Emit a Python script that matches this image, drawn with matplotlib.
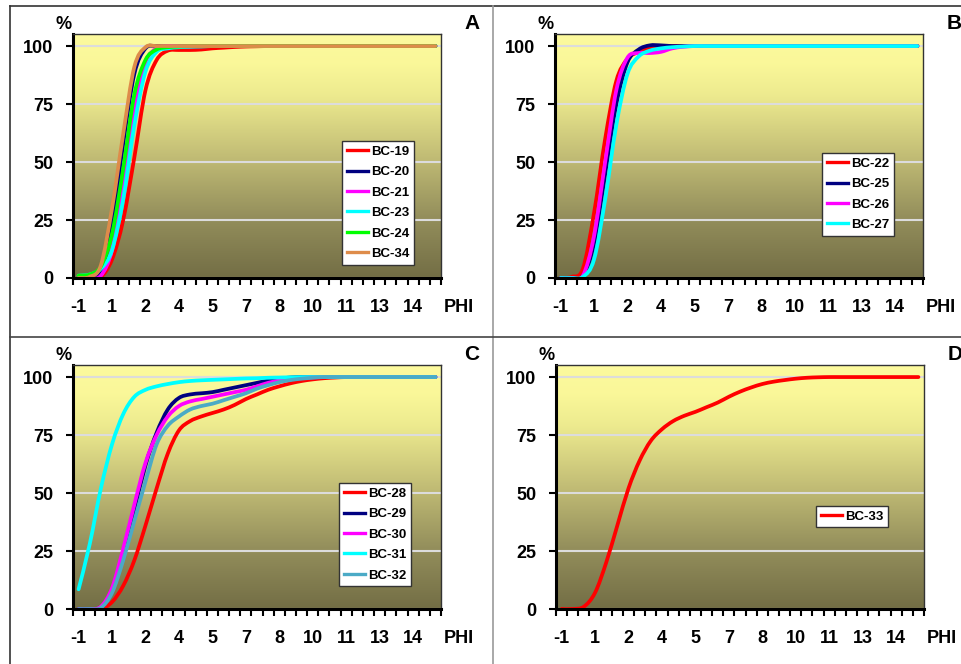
import numpy as np
import matplotlib
matplotlib.use("Agg")
import matplotlib.pyplot as plt
from matplotlib.path import Path
from matplotlib.patches import PathPatch
from matplotlib.lines import Line2D
from matplotlib.colors import LinearSegmentedColormap

plt.rcParams['font.family'] = ['Liberation Sans', 'DejaVu Sans']
plt.rcParams['font.weight'] = 'bold'

# categories (phi, 0.5 steps) and the rounded labels shown on every 3rd one
PHI = [-1, -0.5, 0, 0.5, 1, 1.5, 2, 2.5, 3, 3.5, 4, 4.5, 5, 5.5, 6, 6.5, 7,
       7.5, 8, 8.5, 9, 9.5, 10, 10.5, 11, 11.5, 12, 12.5, 13, 13.5, 14, 14.5, 15]
XLABELS = ['-1', '1', '2', '4', '5', '7', '8', '10', '11', '13', '14']
YTICKS = [0, 25, 50, 75, 100]

# panel A
bc19 = [0, 0, 0.5, 8, 25, 52, 81, 94, 98, 98.3, 98.3, 98.5, 99, 99.3, 99.6, 99.8, 99.9,
        100, 100, 100, 100, 100, 100, 100, 100, 100, 100, 100, 100, 100, 100, 100, 100]
bc20 = [0, 0, 3, 23, 58, 88, 99, 100, 100, 100, 100, 100, 100, 100, 100, 100, 100,
        100, 100, 100, 100, 100, 100, 100, 100, 100, 100, 100, 100, 100, 100, 100, 100]
bc21 = [0, 0, 1, 12, 38, 72, 93, 99, 100, 100, 100, 100, 100, 100, 100, 100, 100,
        100, 100, 100, 100, 100, 100, 100, 100, 100, 100, 100, 100, 100, 100, 100, 100]
bc23 = [1, 1.5, 4, 12, 34, 66, 89, 97.5, 99, 99.5, 99.7, 99.8, 100, 100, 100, 100, 100,
        100, 100, 100, 100, 100, 100, 100, 100, 100, 100, 100, 100, 100, 100, 100, 100]
bc24 = [1, 1.5, 5, 19, 47, 79, 94, 98.5, 99.5, 99.8, 100, 100, 100, 100, 100, 100, 100,
        100, 100, 100, 100, 100, 100, 100, 100, 100, 100, 100, 100, 100, 100, 100, 100]
bc34 = [0, 0.5, 5.5, 30, 62, 91, 99.5, 100, 100, 100, 100, 100, 100, 100, 100, 100, 100,
        100, 100, 100, 100, 100, 100, 100, 100, 100, 100, 100, 100, 100, 100, 100, 100]

# panel B
bc22 = [0, 0.5, 4, 28, 60, 85, 94.5, 97.5, 99.3, 100, 100, 100, 100, 100, 100, 100, 100,
        100, 100, 100, 100, 100, 100, 100, 100, 100, 100, 100, 100, 100, 100, 100, 100]
bc25 = [0, 0, 1, 15, 45, 75, 93, 98.5, 100.3, 100.3, 100, 100, 100, 100, 100, 100, 100,
        100, 100, 100, 100, 100, 100, 100, 100, 100, 100, 100, 100, 100, 100, 100, 100]
bc26 = [0, 0, 1, 18, 50, 81, 95, 97, 97, 97.5, 99, 99.7, 100, 100, 100, 100, 100,
        100, 100, 100, 100, 100, 100, 100, 100, 100, 100, 100, 100, 100, 100, 100, 100]
bc27 = [0, 0, 0.5, 8, 34, 66, 88, 95.5, 98, 99, 99.5, 99.8, 100, 100, 100, 100, 100,
        100, 100, 100, 100, 100, 100, 100, 100, 100, 100, 100, 100, 100, 100, 100, 100]

# panel C
bc28 = [0, 0, 0, 3, 10, 21, 36, 52, 67, 77, 81, 83, 84.5, 86, 88, 90.5, 92.5,
        94.5, 96, 97.3, 98.3, 99, 99.5, 99.8, 100, 100, 100, 100, 100, 100, 100, 100, 100]
bc29 = [0, 0, 0.5, 8, 24, 43, 62, 76, 86, 91, 92.5, 93, 93.5, 94.5, 95.5, 96.5, 97.5,
        98.5, 99.3, 99.8, 100, 100, 100, 100, 100, 100, 100, 100, 100, 100, 100, 100, 100]
bc30 = [0, 0, 1, 9, 26, 45, 63, 75, 83, 87.5, 89.5, 90.5, 91.5, 92.5, 93.5, 94.5, 96,
        97.5, 98.5, 99.3, 99.7, 99.9, 100, 100, 100, 100, 100, 100, 100, 100, 100, 100, 100]
bc31 = [8.5, 28, 52, 71, 84, 91.5, 94.5, 96, 97, 97.8, 98.3, 98.6, 98.8, 99, 99.2, 99.4, 99.5,
        99.7, 99.8, 99.9, 100, 100, 100, 100, 100, 100, 100, 100, 100, 100, 100, 100, 100]
bc32 = [0, 0, 0.5, 7, 21, 38, 55, 71, 79, 83, 86, 87.5, 88.5, 90, 91.5, 93, 95,
        96.5, 97.8, 98.7, 99.3, 99.7, 100, 100, 100, 100, 100, 100, 100, 100, 100, 100, 100]

# panel D
bc33 = [0, 0, 1, 7, 20, 36, 52, 64, 72.5, 77.5, 81, 83.3, 85, 87, 89, 91.5, 93.7,
        95.5, 97, 98, 98.7, 99.3, 99.7, 99.9, 100, 100, 100, 100, 100, 100, 100, 100, 100]

RED, NAVY, MAG, CYAN, GREEN = '#FF0000', '#000080', '#FF00FF', '#00FFFF', '#00FF00'
TAN, STEEL = '#DE8C4A', '#4BAAC6'

W, H = 962, 664


def smooth_path(x, y):
    # Excel style smoothed line: cubic bezier through the points
    p = np.column_stack([x, y]).astype(float)
    pp = np.vstack([p[0], p, p[-1]])
    verts = [p[0]]
    codes = [Path.MOVETO]
    for i in range(len(p) - 1):
        p0, p1, p2, p3 = pp[i], pp[i + 1], pp[i + 2], pp[i + 3]
        verts += [p1 + (p2 - p0) / 6, p2 - (p3 - p1) / 6, p2]
        codes += [Path.CURVE4] * 3
    return Path(verts, codes)


bg = LinearSegmentedColormap.from_list('bg', [
    (0.0, (0.45, 0.43, 0.27)),
    (0.25, (0.58, 0.56, 0.36)),
    (0.5, (0.76, 0.74, 0.46)),
    (0.75, (0.93, 0.92, 0.56)),
    (0.88, (0.98, 0.97, 0.60)),
    (1.0, (0.99, 0.98, 0.62)),
])
grad = np.linspace(0, 1, 256).reshape(-1, 1)

panels = [
    ('A', (73, 34), ['BC-19', 'BC-20', 'BC-21', 'BC-23', 'BC-24', 'BC-34'],
     [bc19, bc20, bc21, bc23, bc24, bc34], [RED, NAVY, MAG, CYAN, GREEN, TAN], (342, 141)),
    ('B', (555, 34), ['BC-22', 'BC-25', 'BC-26', 'BC-27'],
     [bc22, bc25, bc26, bc27], [RED, NAVY, MAG, CYAN], (822, 153)),
    ('C', (73, 365), ['BC-28', 'BC-29', 'BC-30', 'BC-31', 'BC-32'],
     [bc28, bc29, bc30, bc31, bc32], [RED, NAVY, MAG, CYAN, STEEL], (339, 483)),
    ('D', (556, 365), ['BC-33'], [bc33], [RED], (816, 506)),
]

fig = plt.figure(figsize=(W / 100, H / 100), dpi=100)

# frame lines around / between the panels
for xs, ys, c in [((10, W), (6, 6), '#333333'), ((10, 10), (6, H), '#333333'),
                  ((493, 493), (6, H), '#999999'), ((10, W), (337, 337), '#444444')]:
    fig.add_artist(Line2D([x / W for x in xs], [1 - y / H for y in ys],
                          transform=fig.transFigure, color=c, lw=1.2))

for letter, (left, top), names, series, colors, (lx, ly) in panels:
    ax = fig.add_axes([left / W, 1 - (top + 244) / H, 368 / W, 244 / H])
    ax.imshow(grad, extent=[0, 1, 0, 1], transform=ax.transAxes, aspect='auto',
              cmap=bg, origin='lower', zorder=0)
    ax.set_axisbelow(True)
    ax.yaxis.grid(True, color='#DCDCDC', lw=1.5)

    handles = []
    for vals, col in zip(series, colors):
        ax.add_patch(PathPatch(smooth_path(PHI, vals), facecolor='none', edgecolor=col,
                               lw=2.7, capstyle='round', joinstyle='round', zorder=2))
        handles.append(Line2D([], [], color=col, lw=2.4))

    ax.set_xlim(PHI[0] - 0.25, PHI[-1] + 0.25)
    ax.set_ylim(0, 105.2)

    ax.set_yticks(YTICKS)
    ax.set_yticklabels([str(v) for v in YTICKS])
    ax.tick_params(axis='y', direction='out', length=5, width=1.5, pad=9, labelsize=13)
    ax.set_xticks(PHI[::3])
    ax.set_xticklabels(XLABELS)
    ax.set_xticks([v - 0.25 for v in PHI] + [PHI[-1] + 0.25], minor=True)
    ax.tick_params(axis='x', which='major', length=0, pad=15, labelsize=13)
    ax.tick_params(axis='x', which='minor', direction='out', length=5, width=1.5)

    for s in ['left', 'bottom']:
        ax.spines[s].set_linewidth(2.2)
        ax.spines[s].set_color('black')
    for s in ['top', 'right']:
        ax.spines[s].set_linewidth(1)
        ax.spines[s].set_color('#333333')

    ax.text(-0.027, 1.037, '%', transform=ax.transAxes, ha='center', va='center', fontsize=13)
    ax.text(1.049, -0.119, 'PHI', transform=ax.transAxes, ha='center', va='center', fontsize=13)
    ax.text(1.084, 1.041, letter, transform=ax.transAxes, ha='center', va='center', fontsize=15)

    leg = ax.legend(handles, names, loc='upper left', bbox_to_anchor=(lx / W, 1 - ly / H),
                    bbox_transform=fig.transFigure, fancybox=False, framealpha=1,
                    edgecolor='#333333', prop={'size': 9.5, 'weight': 'bold'},
                    handlelength=1.6, handletextpad=0.25, labelspacing=0.62,
                    borderpad=0.35, borderaxespad=0)
    leg.get_frame().set_linewidth(1)

fig.savefig('out.png', dpi=100)
